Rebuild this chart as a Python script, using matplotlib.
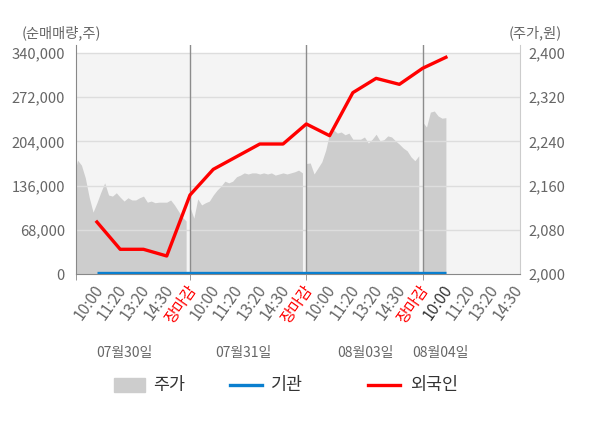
import matplotlib
matplotlib.use('Agg')
import matplotlib.pyplot as plt
from matplotlib.patches import Rectangle
from matplotlib.lines import Line2D
import matplotlib.transforms as mtransforms

plt.rcParams['font.family'] = ['Noto Sans CJK KR', 'DejaVu Sans']

# x tick labels (5 per day, last day cut short) and day captions
tick_labels = ['10:00', '11:20', '13:20', '14:30', '장마감'] * 3 + ['10:00', '11:20', '13:20', '14:30']
date_labels = ['07월30일', '07월31일', '08월03일', '08월04일']

# 주가 (won), sampled evenly through each trading day
price_0730 = [2174, 2206, 2197, 2174, 2139, 2112, 2129, 2148, 2165, 2143,
              2141, 2147, 2139, 2132, 2138, 2134, 2134, 2138, 2141, 2130,
              2132, 2129, 2130, 2130, 2130, 2134, 2125, 2114, 2103, 2096]
price_0731 = [2121, 2101, 2136, 2125, 2129, 2132, 2143, 2152, 2159, 2168,
              2165, 2168, 2176, 2179, 2183, 2181, 2183, 2183, 2181, 2183,
              2181, 2183, 2179, 2181, 2183, 2181, 2183, 2185, 2188, 2183]
price_0803 = [2200, 2201, 2181, 2192, 2203, 2224, 2255, 2261, 2255, 2257,
              2252, 2255, 2244, 2244, 2244, 2248, 2237, 2244, 2253, 2241,
              2243, 2250, 2248, 2241, 2235, 2228, 2223, 2212, 2205, 2214]
price_0804 = [2275, 2266, 2293, 2295, 2286, 2282, 2283]
prices = [price_0730, price_0731, price_0803, price_0804]

# 순매매량 (shares) at each tick time
foreign = [80000, 38000, 38000, 27700, 121500, 161000, 180500, 200000,
           200000, 230800, 212800, 279000, 301000, 291800, 316500, 333400]
inst = [1800, 1800, 1800, 1800, 1800, 1800, 1800, 1800,
        1800, 1800, 1800, 1800, 1800, 1800, 1800, 1800]

GRAY = '#666666'

fig = plt.figure(figsize=(6, 4.28), dpi=100)
ax = fig.add_axes([76/600, (428-274)/428, 444/600, 229/428])
ax.set_facecolor('white')

# price area (right scale)
for d, p in enumerate(prices):
    xs = [d + i/30 for i in range(len(p))]
    ax.fill_between(xs, 2000, p, color='#cdcdcd', lw=0, zorder=2)
ax.axhspan(2000, 2400, color='#f4f4f4', zorder=0, lw=0)
for v in [2080, 2160, 2240, 2320, 2400]:
    ax.axhline(v, color='#dddddd', lw=1, zorder=3)
for d in [1, 2, 3]:
    ax.axvline(d, color='#8c8c8c', lw=1.0, zorder=3)
ax.set_ylim(2000, 2000 + 400*229/221)
ax.set_xlim(0.02, 3.837)

ax2 = ax.twinx()
ax.yaxis.tick_right()
ax2.yaxis.tick_left()

tpos = [0.2 + i/5 for i in range(len(foreign))]
ax2.plot(tpos, inst, color='#0a7fcf', lw=2.4, solid_capstyle='butt', zorder=4)
ax2.plot(tpos, foreign, color='#ff0000', lw=2.4, zorder=5)
ax2.set_ylim(0, 340000*229/221)

ax2.set_yticks([0, 68000, 136000, 204000, 272000, 340000])
ax2.set_yticklabels(['0', '68,000', '136,000', '204,000', '272,000', '340,000'])
ax.set_yticks([2000, 2080, 2160, 2240, 2320, 2400])
ax.set_yticklabels(['2,000', '2,080', '2,160', '2,240', '2,320', '2,400'])
ax2.tick_params(axis='y', length=0, pad=8, labelsize=10.6, labelcolor=GRAY)
ax.tick_params(axis='y', length=0, pad=6, labelsize=10.6, labelcolor=GRAY)

for s in ax.spines.values():
    s.set_visible(False)
ax2.spines['top'].set_visible(False)
ax2.spines['left'].set_color('#888888')
ax2.spines['bottom'].set_color('#888888')
ax2.spines['right'].set_color('#cccccc')

# x ticks
lpos = [0.2 + i/5 for i in range(len(tick_labels))]
ax.xaxis.remove_overlapping_locs = False
ax.set_xticks(lpos)
ax.set_xticklabels(tick_labels, rotation=55, ha='right', va='center',
                   rotation_mode='anchor', fontsize=11.2)
ax.set_xticks([0.02, 1, 2, 3], minor=True)
ax.tick_params(axis='x', which='major', length=0, pad=9)
ax.tick_params(axis='x', which='minor', length=4, color='#888888')
for lab in ax.get_xticklabels():
    lab.set_x(lab.get_position()[0])
offset = mtransforms.ScaledTranslation(3/100, 0, fig.dpi_scale_trans)
for i, t in enumerate(ax.get_xticklabels()):
    t.set_transform(t.get_transform() + offset)
    if tick_labels[i] == '장마감':
        t.set_color('#ff0000')
    elif i == 15:
        t.set_color('#333333')
    else:
        t.set_color(GRAY)

trans = mtransforms.blended_transform_factory(ax.transData, ax.transAxes)
for x, lab in zip([0.44, 1.46, 2.51, 3.15], date_labels):
    ax.text(x, -79/229, lab, transform=trans, ha='center', va='center',
            fontsize=10, color=GRAY)

fig.text(22/600, 1-33/428, '(순매매량,주)', ha='left', va='center', fontsize=10.3, color=GRAY)
fig.text(562/600, 1-33/428, '(주가,원)', ha='right', va='center', fontsize=10.3, color=GRAY)

# legend
ly = 1 - 385/428
fig.add_artist(Rectangle((114/600, ly - 7/428), 31/600, 14/428, color='#cdcdcd',
                         transform=fig.transFigure))
fig.text(153/600, ly, '주가', ha='left', va='center', fontsize=12.5, color='#333333')
fig.add_artist(Line2D([230/600, 262/600], [ly, ly], color='#0a7fcf', lw=2.4,
                      transform=fig.transFigure))
fig.text(271/600, ly, '기관', ha='left', va='center', fontsize=12.5, color='#333333')
fig.add_artist(Line2D([368/600, 400/600], [ly, ly], color='#ff0000', lw=2.4,
                      transform=fig.transFigure))
fig.text(410/600, ly, '외국인', ha='left', va='center', fontsize=12.5, color='#333333')

fig.savefig('out.png', dpi=100)
